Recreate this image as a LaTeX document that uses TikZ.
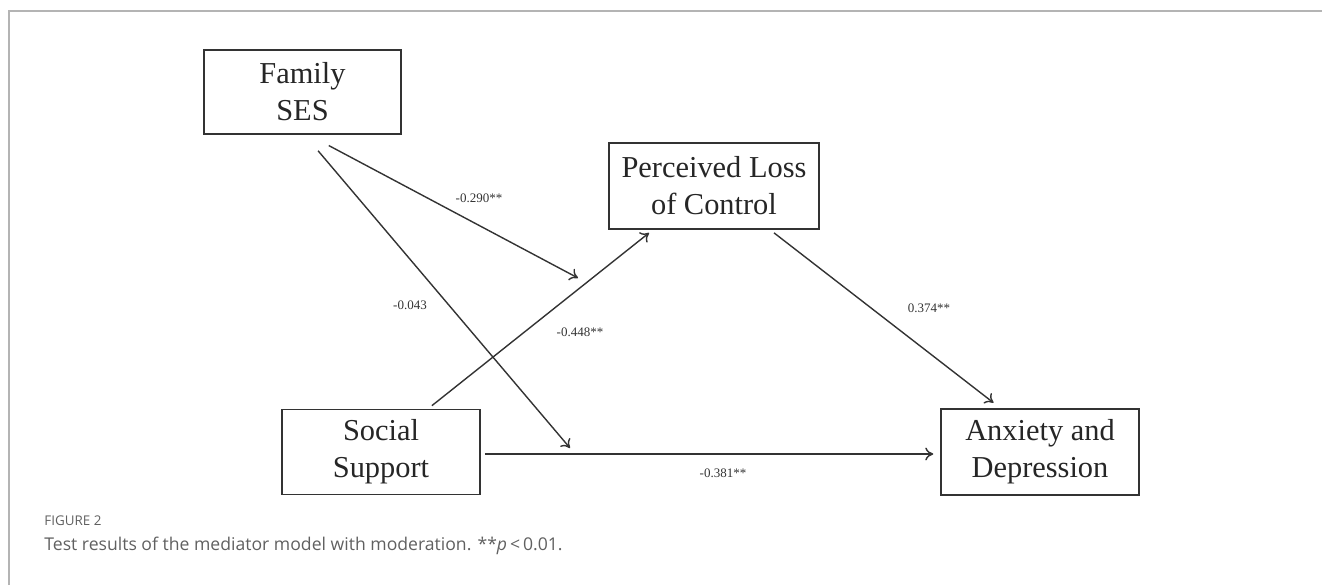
\documentclass[tikz,border=0pt]{standalone}
\usepackage{fontspec}
\setmainfont{Liberation Serif}
\newfontfamily\capfont{Open Sans}
\usetikzlibrary{arrows.meta}
\definecolor{linegray}{HTML}{333333}
\definecolor{framegray}{HTML}{B4B4B4}
\definecolor{capgray}{HTML}{606060}
\tikzset{
  varbox/.style = {draw=linegray, line width=0.75pt, align=center, inner sep=0pt,
                   font=\fontsize{15.2}{18.5}\selectfont, text=black!85},
  path/.style   = {draw=linegray, line width=0.7pt, -{To[length=4pt,width=6.5pt]}},
  coef/.style   = {font=\fontsize{6.5}{7}\selectfont, text=black!80, inner sep=0pt},
}

\begin{document}
\begin{tikzpicture}[x=0.5pt, y=-0.5pt]
            \useasboundingbox (0,0) rectangle (1322,585);
            % frame
            \draw[framegray, line width=1pt] (9,585) -- (9,11) -- (1322,11);
            % variables
            \node[varbox, minimum width=98.5pt, minimum height=42pt] (ses) at (302.5,92) {Family\\SES};
            \node[varbox, minimum width=105pt, minimum height=43pt] (plc) at (714,186) {Perceived Loss\\of Control};
            \node[varbox, minimum width=99pt, minimum height=42.5pt] (ss) at (381,452) {Social\\Support};
            \node[varbox, minimum width=99pt, minimum height=43pt] (ad) at (1040,452) {Anxiety and\\Depression};
            % moderation targets
            \coordinate (modA) at (578,278);
            \coordinate (modB) at (570,448);
            % paths
            \draw[path, shorten <=11.5pt] ([xshift=3pt]ses.south) -- (modA);
            \draw[path, shorten <=10.5pt] ([xshift=1pt]ses.south) -- (modB);
            \draw[path, shorten <=2.5pt, shorten >=2.5pt] ([xshift=23.5pt]ss.north) -- ([xshift=-30.5pt]plc.south);
            \draw[path, shorten <=2.5pt, shorten >=4.5pt] ([xshift=28pt]plc.south) -- ([xshift=-19.7pt]ad.north);
            \draw[path, shorten <=2pt, shorten >=3.5pt] ([yshift=-1pt]ss.east) -- ([yshift=-1pt]ad.west);
            % coefficients
            \node[coef] (c1) at (479,198) {-0.290**};
            \node[coef] (c2) at (410,305) {-0.043};
            \node[coef] (c3) at (580,332) {-0.448**};
            \node[coef] (c4) at (929,308) {0.374**};
            \node[coef] (c5) at (723,473) {-0.381**};
            % caption
            \node[anchor=west, inner sep=0pt, text=capgray, font=\capfont\fontsize{6.7}{7.5}\selectfont] (fig) at (44,521) {FIGURE 2};
            \node[anchor=west, inner sep=0pt, text=capgray, font=\capfont\fontsize{8.8}{10}\selectfont] (cap) at (44,546)
                {Test results of the mediator model with moderation. **\textit{p}\,<\,0.01.};
        \end{tikzpicture}
\end{document}
